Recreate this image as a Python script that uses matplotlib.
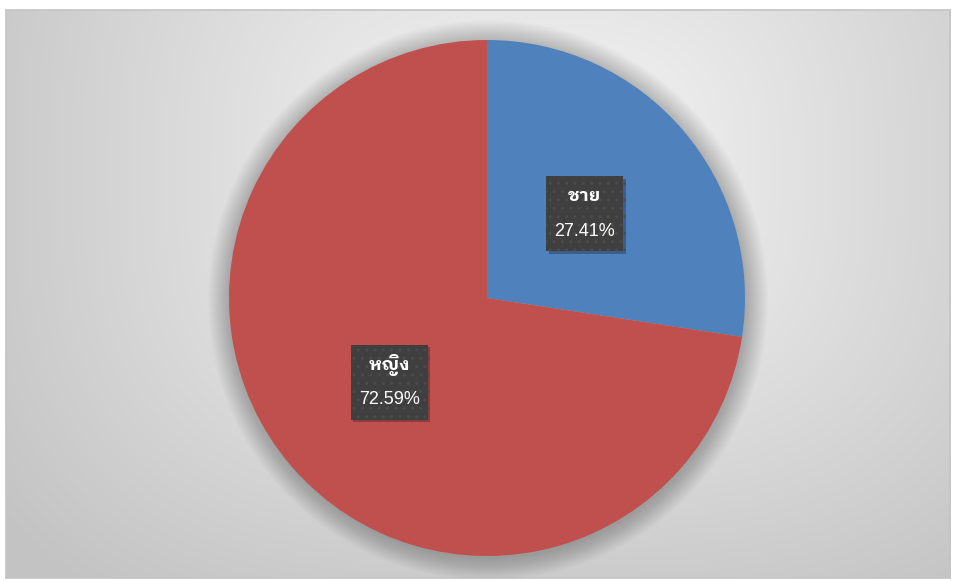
# pie chart: ชาย / หญิง

import numpy as np
import matplotlib
matplotlib.use("Agg")
import matplotlib.pyplot as plt
import matplotlib.transforms as mtransforms
from matplotlib.patches import Rectangle, Circle
from matplotlib import patheffects
import logging

logging.getLogger("matplotlib.font_manager").setLevel(logging.ERROR)

labels = ["ชาย", "หญิง"]
values = [27.41, 72.59]
colors = ["#4F81BD", "#C0504D"]

fonts = ["Liberation Sans", "IBM Plex Sans Thai Looped", "Noto Sans Thai Looped", "DejaVu Sans"]

W, H = 956, 581
fig = plt.figure(figsize=(W / 100, H / 100), dpi=100)
fig.patch.set_facecolor("white")

# gradient background of the chart area (frame from x=6..950, y=10..578)
bw, bh = 944, 568
bg = fig.add_axes([6 / W, (H - 578) / H, bw / W, bh / H])
yy, xx = np.mgrid[0:bh, 0:bw]
dx = np.abs(xx + 6 - 530) / 560.0
dy = np.abs(yy + 10 - 170) / 440.0
d = (dx ** 3 + dy ** 3) ** (1 / 3)
shade = np.clip(0.975 - 0.19 * d, 0.765, 1.0)
bg.imshow(np.dstack([shade] * 3), aspect="auto", interpolation="bilinear")
bg.set_xticks([])
bg.set_yticks([])
for s in bg.spines.values():
    s.set_color("#c4c4c4")
    s.set_linewidth(1.2)

# pie axes
R = 258
ax = fig.add_axes([(487 - R) / W, (H - 298 - R) / H, 2 * R / W, 2 * R / H])
ax.axis("off")

# soft shadow behind the pie
for k in range(20):
    ax.add_patch(Circle((0.004, -0.008), 1.0 + k * 0.0045, color="black",
                        alpha=0.011, lw=0, zorder=0, clip_on=False))

wedges, _ = ax.pie(values, colors=colors, startangle=90, counterclock=False,
                   radius=1.0, wedgeprops=dict(linewidth=0))
for w in wedges:
    w.set_zorder(2)
ax.set_xlim(-1, 1)
ax.set_ylim(-1, 1)
ax.set_aspect("equal")

# data labels
total = sum(values)
start = 90.0
for lab, v in zip(labels, values):
    mid = np.deg2rad(start - v / total * 360 / 2)
    start -= v / total * 360
    x, y = 0.5 * np.cos(mid), 0.5 * np.sin(mid)
    tr = fig.dpi_scale_trans + mtransforms.ScaledTranslation(x, y, ax.transData)
    box = Rectangle((-0.385, -0.375), 0.77, 0.75, transform=tr,
                    facecolor="#3f3f3f", edgecolor="#4c4c4c", linewidth=0,
                    hatch="..", zorder=5)
    box.set_path_effects([patheffects.SimplePatchShadow(offset=(2, -2), alpha=0.3),
                          patheffects.Normal()])
    ax.add_patch(box)
    ax.annotate(lab, (x, y), xytext=(0, 12.5), textcoords="offset points",
                ha="center", va="center", color="white", fontsize=13,
                fontweight="bold", family=fonts, zorder=6)
    ax.annotate(f"{v:.2f}%", (x, y), xytext=(0, -12.5), textcoords="offset points",
                ha="center", va="center", color="white", fontsize=13,
                family=fonts, zorder=6)

fig.savefig("out.png", dpi=100)
